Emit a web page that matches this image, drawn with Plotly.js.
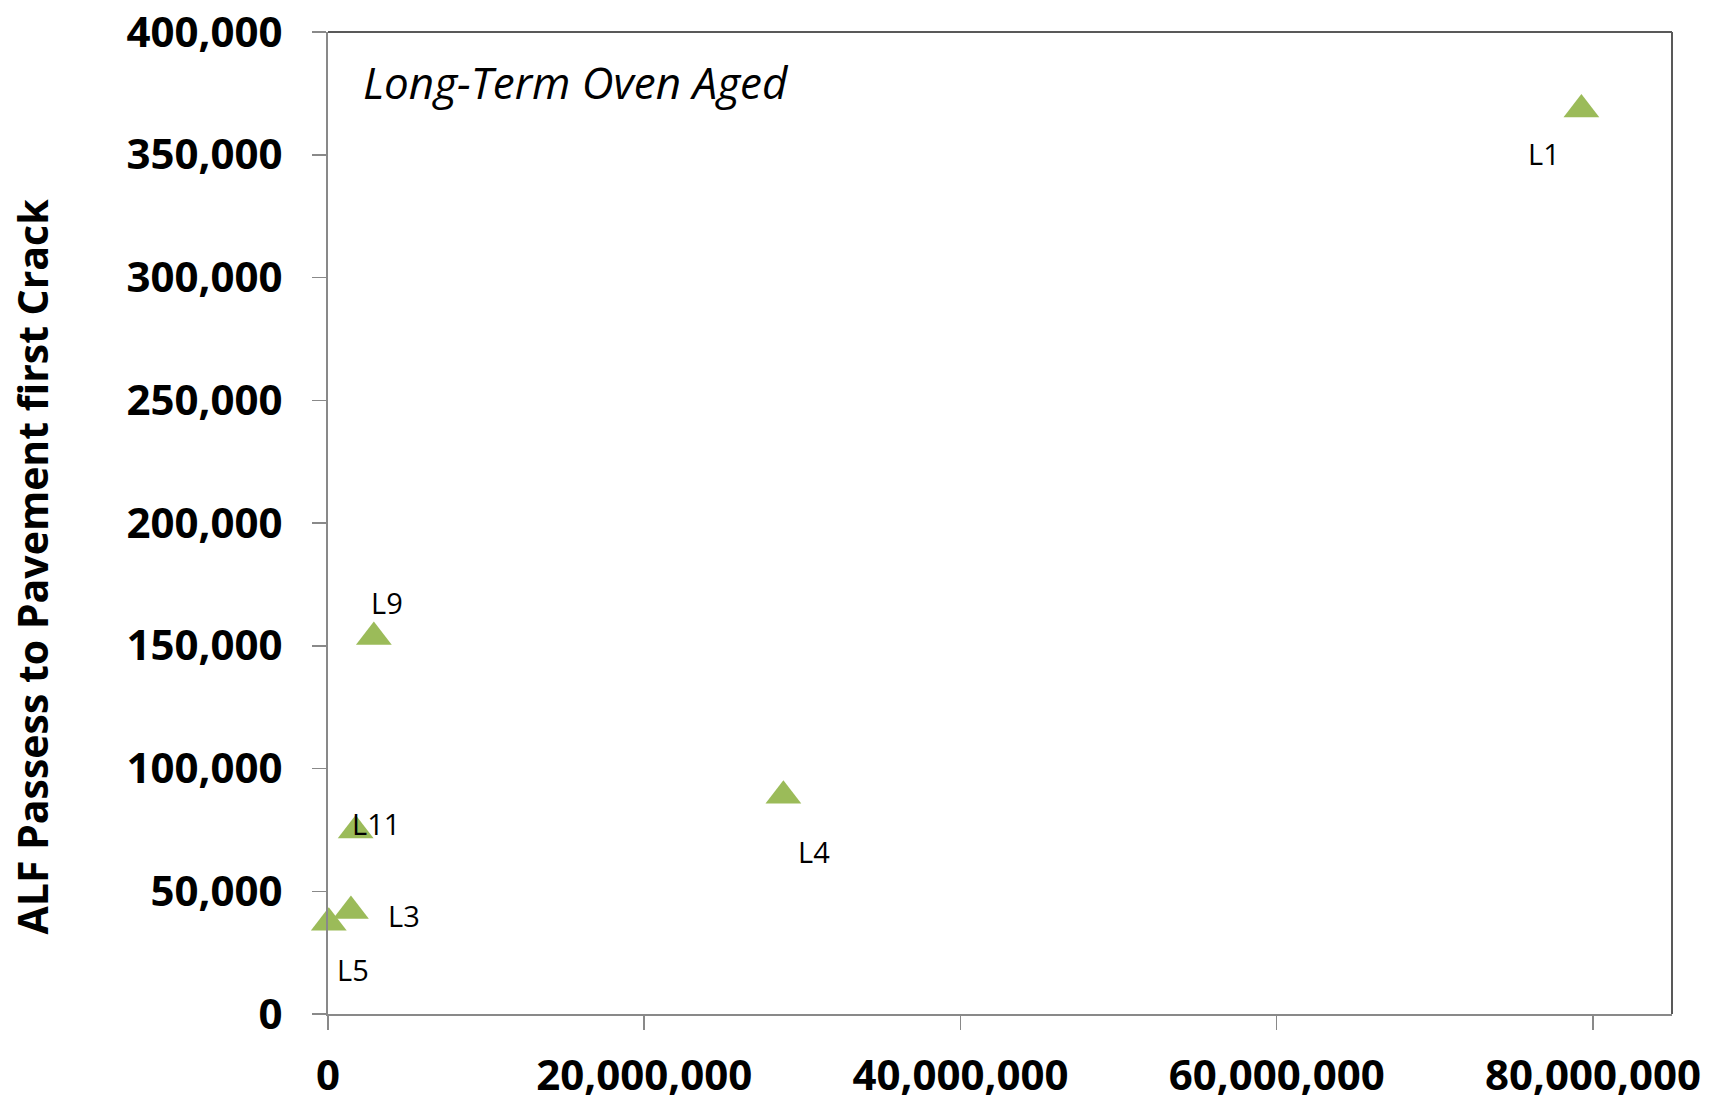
<!DOCTYPE html>
<html>
<head>
<meta charset="utf-8">
<script src="https://cdn.plot.ly/plotly-3.0.1.min.js"></script>
<style>html,body{margin:0;padding:0;background:#fff;}#chart{width:1729px;height:1105px;}</style>
</head>
<body>
<div id="chart"></div>
<script>
// ---- data ----
const labels = ["L1", "L9", "L4", "L11", "L3", "L5"];
const esalsX = [79270000, 2900000, 28800000, 1750000, 1450000, 50000];
const passesY = [368400, 153600, 88900, 74700, 42000, 37200];
const xTickVals = [0, 20000000, 40000000, 60000000, 80000000];
const yTickVals = [0, 50000, 100000, 150000, 200000, 250000, 300000, 350000, 400000];
const panelNote = "Long-Term Oven Aged";
const yTitle = "ALF Passess to Pavement first Crack";

// ---- label placement (pixel offsets from each point) ----
const labelShift = {
  L1: [-37, -44], L9: [13, 34], L4: [31, -56],
  L11: [20, 7], L3: [53, -5], L5: [24, -47]
};

const fmt = v => v.toLocaleString("en-US");

const trace = {
  type: "scatter",
  mode: "markers",
  x: esalsX,
  y: passesY,
  text: labels,
  marker: { symbol: "triangle-up", size: 31, color: "#9BBB59" },
  hoverinfo: "text+x+y",
  showlegend: false,
  cliponaxis: false
};

const annotations = labels.map((lab, i) => ({
  x: esalsX[i], y: passesY[i], xref: "x", yref: "y",
  text: lab, showarrow: false,
  xshift: labelShift[lab][0], yshift: labelShift[lab][1],
  font: { family: "Open Sans, sans-serif", size: 29, color: "#000" }
}));
annotations.push({
  xref: "paper", yref: "paper", x: 0.0247, y: 0.9495,
  xanchor: "left", yanchor: "middle", showarrow: false,
  text: "<i>" + panelNote + "</i>",
  font: { family: "Open Sans, sans-serif", size: 44, color: "#000" }
});
// y-axis title placed as in the reference (slightly below the axis centre)
annotations.push({
  xref: "paper", yref: "paper", x: -0.2206, y: 0.4552,
  xanchor: "center", yanchor: "middle", showarrow: false, textangle: -90,
  text: "<b>" + yTitle + "</b>",
  font: { family: "Open Sans, sans-serif", size: 41, color: "#000" }
});

const layout = {
  width: 1729, height: 1105,
  margin: { l: 327.5, r: 57.3, t: 31.5, b: 90.5, pad: 0 },
  paper_bgcolor: "#fff", plot_bgcolor: "#fff",
  font: { family: "Open Sans, sans-serif", color: "#000" },
  xaxis: {
    range: [0, 85000000],
    tickmode: "array", tickvals: xTickVals, ticktext: xTickVals.map(fmt),
    showgrid: false, zeroline: false,
    showline: true, linecolor: "#898989", linewidth: 2,
    ticks: "outside", ticklen: 14, tickwidth: 1.5, tickcolor: "#898989",
    ticklabelstandoff: 10, ticklabeloverflow: "allow",
    tickfont: { family: "Open Sans, sans-serif", size: 42, weight: "bold", color: "#000" }
  },
  yaxis: {
    range: [0, 400000],
    tickmode: "array", tickvals: yTickVals, ticktext: yTickVals.map(fmt),
    showgrid: false, zeroline: false,
    showline: true, linecolor: "#898989", linewidth: 2,
    ticks: "outside", ticklen: 14, tickwidth: 1.5, tickcolor: "#898989",
    ticklabelstandoff: 21, ticklabeloverflow: "allow",
    tickfont: { family: "Open Sans, sans-serif", size: 42, weight: "bold", color: "#000" }
  },
  shapes: [
    { type: "line", xref: "paper", yref: "paper", x0: 0, x1: 1, y0: 1, y1: 1,
      line: { color: "#595959", width: 2 } },
    { type: "line", xref: "paper", yref: "paper", x0: 1, x1: 1, y0: 0, y1: 1,
      line: { color: "#595959", width: 2 } }
  ],
  annotations: annotations
};

Plotly.newPlot("chart", [trace], layout, { displayModeBar: false, staticPlot: true });
</script>
</body>
</html>
